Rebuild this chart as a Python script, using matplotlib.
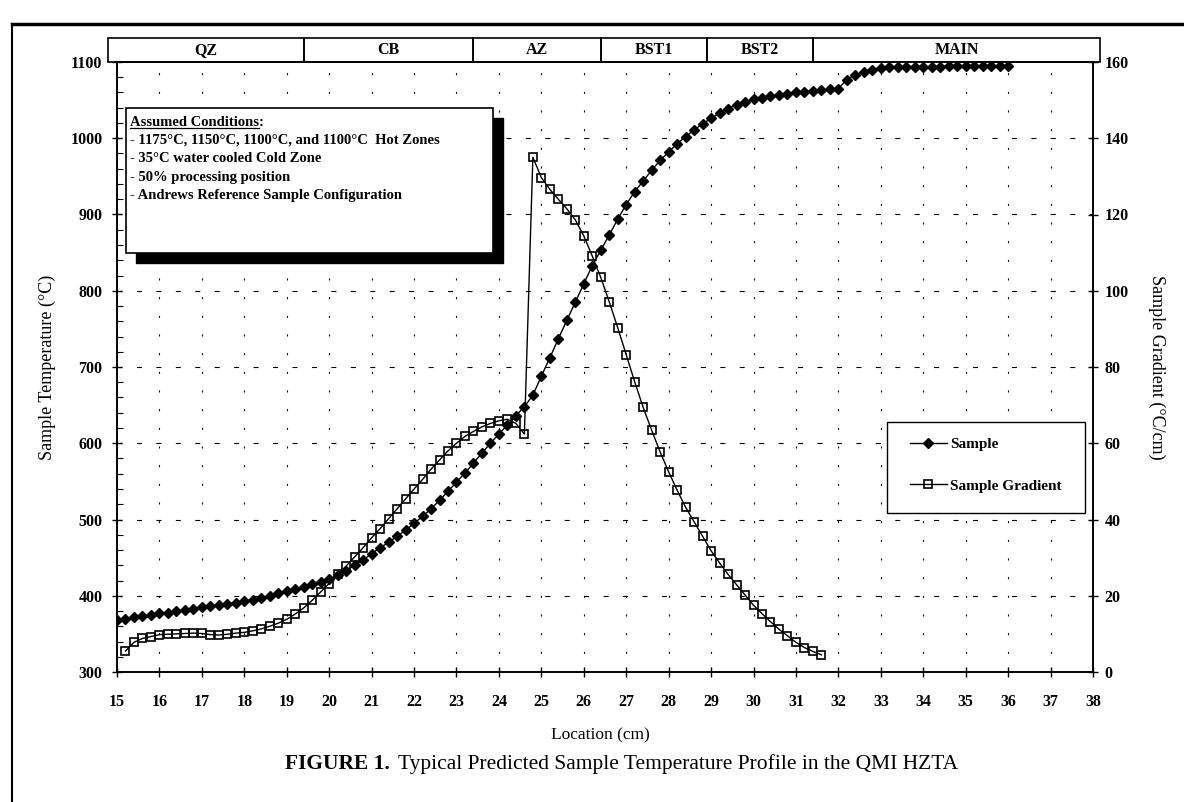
import matplotlib.pyplot as plt
from matplotlib.patches import Rectangle
from matplotlib.lines import Line2D

plt.rcParams['font.family'] = ['Liberation Serif', 'DejaVu Serif']

# furnace zones drawn in the strip above the plot (edges in cm)
zone_names = ['QZ', 'CB', 'AZ', 'BST1', 'BST2', 'MAIN']
zone_edges = [14.78, 19.4, 23.4, 26.4, 28.9, 31.4, 38.17]

sample_x = [15.0, 15.2, 15.4, 15.6, 15.8, 16.0, 16.2, 16.4, 16.6, 16.8,
            17.0, 17.2, 17.4, 17.6, 17.8, 18.0, 18.2, 18.4, 18.6, 18.8,
            19.0, 19.2, 19.4, 19.6, 19.8, 20.0, 20.2, 20.4, 20.6, 20.8,
            21.0, 21.2, 21.4, 21.6, 21.8, 22.0, 22.2, 22.4, 22.6, 22.8,
            23.0, 23.2, 23.4, 23.6, 23.8, 24.0, 24.2, 24.4, 24.6, 24.8,
            25.0, 25.2, 25.4, 25.6, 25.8, 26.0, 26.2, 26.4, 26.6, 26.8,
            27.0, 27.2, 27.4, 27.6, 27.8, 28.0, 28.2, 28.4, 28.6, 28.8,
            29.0, 29.2, 29.4, 29.6, 29.8, 30.0, 30.2, 30.4, 30.6, 30.8,
            31.0, 31.2, 31.4, 31.6, 31.8, 32.0, 32.2, 32.4, 32.6, 32.8,
            33.0, 33.2, 33.4, 33.6, 33.8, 34.0, 34.2, 34.4, 34.6, 34.8,
            35.0, 35.2, 35.4, 35.6, 35.8, 36.0]
sample_t = [368, 370, 372, 373, 375, 377, 378, 380, 381, 383,
            385, 386, 388, 389, 391, 393, 395, 397, 400, 403,
            406, 409, 412, 415, 418, 422, 427, 433, 440, 447,
            455, 463, 470, 478, 486, 495, 504, 514, 525, 537,
            549, 561, 574, 587, 600, 612, 624, 636, 648, 663,
            688, 712, 737, 761, 785, 809, 833, 853, 873, 894,
            913, 930, 944, 958, 971, 982, 993, 1002, 1011, 1019,
            1026, 1033, 1039, 1044, 1048, 1051, 1053, 1055, 1057, 1058,
            1060, 1061, 1062, 1063, 1064, 1065, 1077, 1083, 1087, 1090,
            1092, 1093, 1093, 1094, 1094, 1094, 1094, 1094, 1095, 1095,
            1095, 1095, 1095, 1095, 1095, 1095]

grad_x = [15.2, 15.4, 15.6, 15.8, 16.0, 16.2, 16.4, 16.6, 16.8, 17.0,
          17.2, 17.4, 17.6, 17.8, 18.0, 18.2, 18.4, 18.6, 18.8, 19.0,
          19.2, 19.4, 19.6, 19.8, 20.0, 20.2, 20.4, 20.6, 20.8, 21.0,
          21.2, 21.4, 21.6, 21.8, 22.0, 22.2, 22.4, 22.6, 22.8, 23.0,
          23.2, 23.4, 23.6, 23.8, 24.0, 24.2, 24.4, 24.6, 24.8, 25.0,
          25.2, 25.4, 25.6, 25.8, 26.0, 26.2, 26.4, 26.6, 26.8, 27.0,
          27.2, 27.4, 27.6, 27.8, 28.0, 28.2, 28.4, 28.6, 28.8, 29.0,
          29.2, 29.4, 29.6, 29.8, 30.0, 30.2, 30.4, 30.6, 30.8, 31.0,
          31.2, 31.4, 31.6]
grad_g = [5.5, 7.8, 8.8, 9.3, 9.8, 9.9, 10.0, 10.1, 10.2, 10.1,
          9.8, 9.7, 9.9, 10.2, 10.4, 10.8, 11.3, 12.0, 12.8, 13.8,
          15.2, 16.8, 18.8, 21.0, 23.2, 25.6, 27.8, 30.2, 32.6, 35.2,
          37.6, 40.2, 42.8, 45.4, 48.0, 50.5, 53.2, 55.6, 58.0, 60.0,
          61.8, 63.1, 64.3, 65.2, 65.9, 66.3, 65.2, 62.4, 135.0, 129.7,
          126.6, 124.0, 121.5, 118.6, 114.4, 109.1, 103.5, 97.1, 90.3, 83.2,
          76.1, 69.4, 63.4, 57.7, 52.5, 47.7, 43.2, 39.4, 35.6, 31.8,
          28.6, 25.6, 22.9, 20.2, 17.5, 15.3, 13.2, 11.2, 9.5, 7.8,
          6.4, 5.4, 4.5]

conditions = ['- 1175°C, 1150°C, 1100°C, and 1100°C  Hot Zones',
              '- 35°C water cooled Cold Zone',
              '- 50% processing position',
              '- Andrews Reference Sample Configuration']

W, H = 1184, 802


def fx(px):
    return px / W


def fy(py):
    return 1 - py / H


fig = plt.figure(figsize=(W / 100, H / 100), dpi=100)
ax = fig.add_axes([fx(117), fy(672), fx(1093) - fx(117), fy(62) - fy(672)])
ax2 = ax.twinx()

ax.set_xlim(15, 38)
ax.set_ylim(300, 1100)
ax2.set_ylim(0, 160)
ax.set_xticks(range(15, 39))
ax.set_yticks(range(300, 1101, 100))
ax.set_yticks(range(300, 1101, 20), minor=True)
ax2.set_yticks(range(0, 161, 20))

# dotted verticals, dashed horizontals
for xv in range(16, 38):
    ax.axvline(xv, color='black', lw=0.8, dashes=(1.8, 15), zorder=0)
for yv in range(400, 1100, 100):
    ax.axhline(yv, color='black', lw=0.8, dashes=(4.5, 13), zorder=0)

l1, = ax.plot(sample_x, sample_t, color='black', lw=1, marker='D', ms=5,
              mfc='black', mec='black', label='Sample')
l2, = ax2.plot(grad_x, grad_g, color='black', lw=1, marker='s', ms=5.5,
               mfc='none', mec='black', mew=1.2, label='Sample Gradient')

for a in (ax, ax2):
    for s in a.spines.values():
        s.set_linewidth(1.2)
ax.tick_params(axis='both', which='major', direction='inout', length=7, width=1, labelsize=11.5)
ax.tick_params(axis='y', which='minor', direction='in', length=4, width=0.8)
ax.tick_params(axis='x', pad=12)
ax.tick_params(axis='y', pad=7)
ax2.tick_params(axis='y', direction='inout', length=7, width=1, labelsize=11.5, pad=5)
for lbl in ax.get_xticklabels() + ax.get_yticklabels() + ax2.get_yticklabels():
    lbl.set_fontweight('bold')

# legend: box drawn by hand, entries placed inside it
ax2.add_patch(Rectangle((fx(887), fy(513)), fx(1085) - fx(887), fy(422) - fy(513),
                        transform=fig.transFigure, facecolor='white', edgecolor='black',
                        lw=1.0, clip_on=False, zorder=4))
leg = ax2.legend([l1, l2], ['Sample', 'Sample Gradient'], loc='center left',
                 bbox_to_anchor=(fx(910), fy(465)), bbox_transform=fig.transFigure,
                 frameon=False, prop=dict(weight='bold', size=11), labelspacing=1.85,
                 borderpad=0, handlelength=2.4, handletextpad=0.2, borderaxespad=0)
leg.set_zorder(5)

# zone strip
bax = fig.add_axes([fx(117), fy(62), fx(1093) - fx(117), fy(38) - fy(62)])
bax.set_xlim(15, 38)
bax.set_ylim(0, 1)
bax.axis('off')
for name, e0, e1 in zip(zone_names, zone_edges[:-1], zone_edges[1:]):
    bax.add_patch(Rectangle((e0, 0), e1 - e0, 1, fill=False, lw=1.2, clip_on=False))
    bax.text((e0 + e1) / 2, 0.5, name, ha='center', va='center', fontsize=11.5, fontweight='bold')

# conditions box with shadow
fig.add_artist(Rectangle((fx(136), fy(263)), fx(503) - fx(136), fy(118) - fy(263),
                         transform=fig.transFigure, facecolor='black', edgecolor='black', zorder=10))
fig.add_artist(Rectangle((fx(126), fy(253)), fx(493) - fx(126), fy(108) - fy(253),
                         transform=fig.transFigure, facecolor='white', edgecolor='black', lw=1.2, zorder=11))
head = fig.text(fx(130), fy(122), 'Assumed Conditions', fontsize=10.5, fontweight='bold',
                va='center', zorder=12)
for i, line in enumerate(conditions):
    fig.text(fx(130), fy(140 + 18.5 * i), line, fontsize=10.5, fontweight='bold', va='center', zorder=12)

fig.text(fx(47), fy(367), 'Sample Temperature (°C)', rotation=90, ha='center', va='center', fontsize=13)
fig.text(fx(1157), fy(367), 'Sample Gradient (°C/cm)', rotation=-90, ha='center', va='center', fontsize=13)
fig.text(fx(600), fy(735), 'Location (cm)', ha='center', va='center', fontsize=12.5)
fig.text(fx(390), fy(764), 'FIGURE 1.', ha='right', va='center', fontsize=15.5, fontweight='bold')
fig.text(fx(398), fy(764), 'Typical Predicted Sample Temperature Profile in the QMI HZTA',
         ha='left', va='center', fontsize=15.5)

# page frame lines
fig.add_artist(Line2D([fx(12), fx(12)], [fy(24), 0], color='black', lw=1.5))
fig.add_artist(Line2D([fx(12), 1], [fy(24), fy(24)], color='black', lw=2.5))

# underline the heading, colon after it
r = fig.canvas.get_renderer()
bb = head.get_window_extent(r)
fig.add_artist(Line2D([bb.x0 / W, bb.x1 / W], [(bb.y0 + 1) / H, (bb.y0 + 1) / H],
                      color='black', lw=0.9, zorder=12))
fig.text(bb.x1 / W, fy(122), ':', fontsize=10.5, fontweight='bold', va='center', zorder=12)

fig.savefig('out.png', dpi=100)
